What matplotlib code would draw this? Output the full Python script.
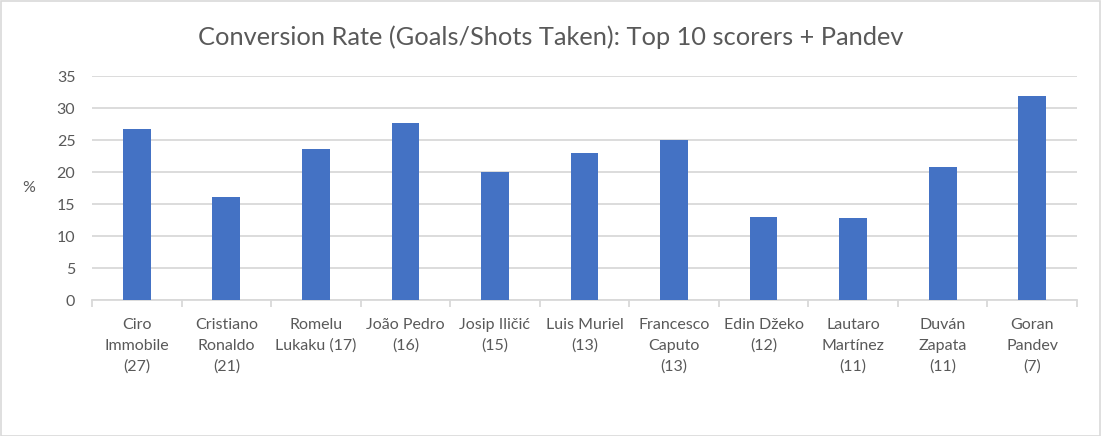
import matplotlib
matplotlib.use("Agg")
import matplotlib.pyplot as plt
from matplotlib.patches import Rectangle

players = ["Ciro\nImmobile\n(27)", "Cristiano\nRonaldo\n(21)", "Romelu\nLukaku (17)",
           "João Pedro\n(16)", "Josip Iličić\n(15)", "Luis Muriel\n(13)",
           "Francesco\nCaputo\n(13)", "Edin Džeko\n(12)", "Lautaro\nMartínez\n(11)",
           "Duván\nZapata\n(11)", "Goran\nPandev\n(7)"]
conversion = [26.7, 16.1, 23.6, 27.6, 20.0, 22.9, 25.0, 12.95, 12.8, 20.75, 31.8]
yticks = [0, 5, 10, 15, 20, 25, 30, 35]

W, H = 1101, 436
fig = plt.figure(figsize=(W / 100, H / 100), dpi=100)
plt.rcParams['font.family'] = ['Lato', 'DejaVu Sans']

left, right, top, bottom = 92, 1077, 76, 300
ax = fig.add_axes([left / W, 1 - bottom / H, (right - left) / W, (bottom - top) / H])

x = list(range(len(players)))
ax.bar(x, conversion, width=0.31, color="#4472C4", zorder=3)
ax.set_xlim(-0.5, len(players) - 0.5)
ax.set_ylim(0, 35)
ax.set_yticks(yticks)
ax.set_yticklabels([str(v) for v in yticks], fontsize=11.5, color="#595959")
ax.grid(axis="y", color="#d9d9d9", linewidth=1.3, zorder=0)
ax.tick_params(axis="y", length=0, pad=12)

for s in ["top", "right", "left"]:
    ax.spines[s].set_visible(False)
ax.spines["bottom"].set_color("#d9d9d9")
ax.spines["bottom"].set_linewidth(1.3)

# category boundary ticks
ax.set_xticks([i - 0.5 for i in range(len(players) + 1)])
ax.set_xticklabels([])
ax.tick_params(axis="x", length=5, color="#d9d9d9", width=1.3)
ax.set_xticks(x, minor=True)
ax.set_xticklabels(players, minor=True, fontsize=11.5, color="#595959",
                   linespacing=1.6, va="top")
ax.tick_params(axis="x", which="minor", length=0, pad=13)

ax.set_ylabel("%", fontsize=11.5, color="#595959", rotation=0, labelpad=20, va="center")

fig.text(0.5, 1 - 37 / H, "Conversion Rate (Goals/Shots Taken): Top 10 scorers + Pandev",
         ha="center", va="center", fontsize=18.3, color="#595959")

fig.patches.append(Rectangle((0.5 / W, 0.5 / H), 1 - 1.5 / W, 1 - 1.5 / H,
                             transform=fig.transFigure, fill=False,
                             edgecolor="#d9d9d9", linewidth=1.2))

fig.savefig("out.png", dpi=100)
